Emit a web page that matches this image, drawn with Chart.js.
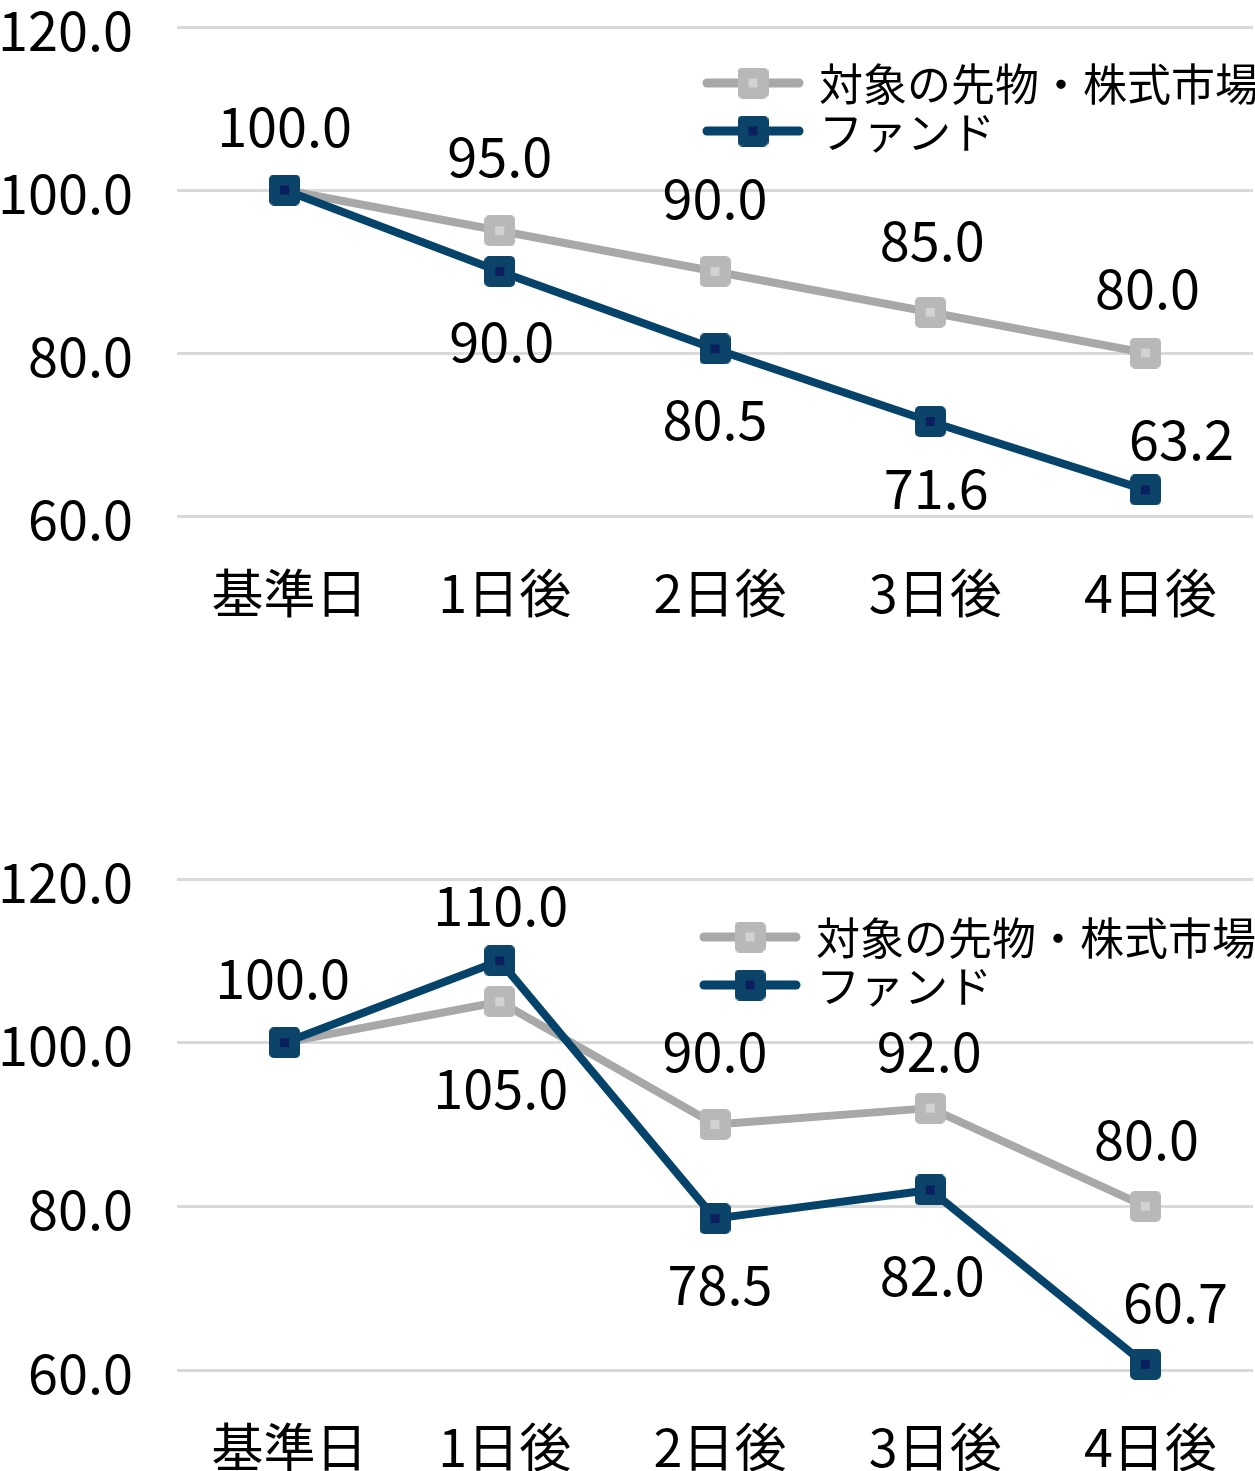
<!DOCTYPE html>
<html>
<head>
<meta charset="utf-8">
<script src="https://cdn.jsdelivr.net/npm/chart.js@4.4.1/dist/chart.umd.min.js"></script>
<style>
  body { margin: 0; background: #fff; }
  #wrap { position: relative; width: 1255px; height: 1471px; overflow: hidden; }
  canvas { position: absolute; left: 0; }
  #top-chart { top: 0; }
  #bottom-chart { top: 850px; }
</style>
</head>
<body>
<div id="wrap">
  <canvas id="top-chart" width="1255" height="640"></canvas>
  <canvas id="bottom-chart" width="1255" height="621"></canvas>
</div>
<script>
const categories = ['基準日', '1日後', '2日後', '3日後', '4日後'];
const seriesNames = ['対象の先物・株式市場', 'ファンド'];

// 上のグラフ
const marketTop = [100.0, 95.0, 90.0, 85.0, 80.0];
const fundTop = [100.0, 90.0, 80.5, 71.6, 63.2];

// 下のグラフ
const marketBottom = [100.0, 105.0, 90.0, 92.0, 80.0];
const fundBottom = [100.0, 110.0, 78.5, 82.0, 60.7];

const yMin = 60, yMax = 120, yStep = 20;

const FONT = '"Noto Sans CJK JP", "Noto Sans", sans-serif';
const GRAY_LINE = '#a8a8a8';
const NAVY_LINE = '#05436a';

function makeMarker(fill, center) {
  const c = document.createElement('canvas');
  c.width = 31;
  c.height = 31;
  const ctx = c.getContext('2d');
  ctx.fillStyle = fill;
  ctx.beginPath();
  ctx.roundRect(0, 0, 31, 31, 5);
  ctx.fill();
  ctx.fillStyle = center;
  ctx.fillRect(11, 11, 9, 9);
  return c;
}

const grayMarker = makeMarker('#b8b8b8', '#d2d2d2');
const navyMarker = makeMarker('#0b4468', '#0b1f5e');

// 値ラベルと凡例を描くプラグイン
const overlayPlugin = {
  id: 'overlay',
  afterDatasetsDraw(chart, args, opts) {
    const ctx = chart.ctx;
    ctx.save();
    ctx.font = '54px ' + FONT;
    ctx.fillStyle = '#000';
    ctx.textAlign = 'center';
    ctx.textBaseline = 'middle';
    chart.data.datasets.forEach((ds, d) => {
      const meta = chart.getDatasetMeta(d);
      const offs = opts.labelOffsets[d];
      meta.data.forEach((pt, i) => {
        if (!offs[i]) return;
        ctx.fillText(ds.data[i].toFixed(1), pt.x + offs[i][0], pt.y + offs[i][1]);
      });
    });

    // 凡例
    const lx = opts.legendX;
    ctx.font = '44px ' + FONT;
    ctx.textAlign = 'left';
    opts.legendOrder.forEach((d, k) => {
      const ds = chart.data.datasets[d];
      const y = opts.legendY + k * 48;
      ctx.strokeStyle = ds.borderColor;
      ctx.lineWidth = 9;
      ctx.lineCap = 'round';
      ctx.beginPath();
      ctx.moveTo(lx, y);
      ctx.lineTo(lx + 92, y);
      ctx.stroke();
      const m = ds.pointStyle;
      ctx.drawImage(m, lx + 46 - m.width / 2, y - m.height / 2);
      ctx.fillStyle = '#000';
      ctx.fillText(ds.label, lx + 112, y + 1);
    });
    ctx.restore();
  }
};

function buildChart(canvasId, market, fund, areaTop, areaBottom, legendX, legendY, labelOffsets) {
  const canvas = document.getElementById(canvasId);
  const h = canvas.height;
  return new Chart(canvas, {
    type: 'line',
    data: {
      labels: categories,
      datasets: [
        {
          label: seriesNames[0],
          data: market,
          borderColor: GRAY_LINE,
          borderWidth: 8,
          pointStyle: grayMarker,
          clip: false,
          order: 1
        },
        {
          label: seriesNames[1],
          data: fund,
          borderColor: NAVY_LINE,
          borderWidth: 8,
          pointStyle: navyMarker,
          clip: false,
          order: 0
        }
      ]
    },
    options: {
      responsive: false,
      animation: false,
      devicePixelRatio: 1,
      layout: { autoPadding: false, padding: { top: areaTop, right: 2, bottom: 0, left: 0 } },
      elements: { line: { tension: 0, borderJoinStyle: 'round' } },
      plugins: {
        legend: { display: false },
        tooltip: { enabled: false },
        overlay: {
          legendX: legendX,
          legendY: legendY,
          legendOrder: [0, 1],
          labelOffsets: labelOffsets
        }
      },
      scales: {
        x: {
          offset: true,
          grid: { display: false },
          border: { display: false },
          ticks: {
            color: '#000',
            font: { family: FONT, size: 52 },
            padding: 38,
            labelOffset: 5,
            maxRotation: 0
          },
          afterFit(scale) {
            scale.height = h - areaBottom;
            scale.paddingLeft = 0;
            scale.paddingRight = 0;
          }
        },
        y: {
          min: yMin,
          max: yMax,
          grid: { color: '#d9d9d9', lineWidth: 3, drawTicks: false },
          border: { display: false },
          ticks: {
            stepSize: yStep,
            color: '#000',
            font: { family: FONT, size: 54 },
            padding: 44,
            labelOffset: 3,
            callback: v => v.toFixed(1)
          },
          afterFit(scale) {
            scale.width = 177;
            scale.paddingTop = 0;
            scale.paddingBottom = 0;
          }
        }
      }
    },
    plugins: [overlayPlugin]
  });
}

document.fonts.load('50px "Noto Sans CJK JP"').then(() => {
  buildChart('top-chart', marketTop, fundTop, 27, 516, 707, 83, [
    [[0, -64], [0, -74], [0, -73], [2, -72], [2, -65]],
    [null, [2, 70], [0, 71], [6, 67], [36, -50]]
  ]);
  buildChart('bottom-chart', marketBottom, fundBottom, 29, 520, 704, 87, [
    [[-2, -64], [1, 87], [0, -73], [-1, -57], [1, -67]],
    [null, [1, -55], [5, 66], [2, 86], [30, -62]]
  ]);
});
</script>
</body>
</html>
